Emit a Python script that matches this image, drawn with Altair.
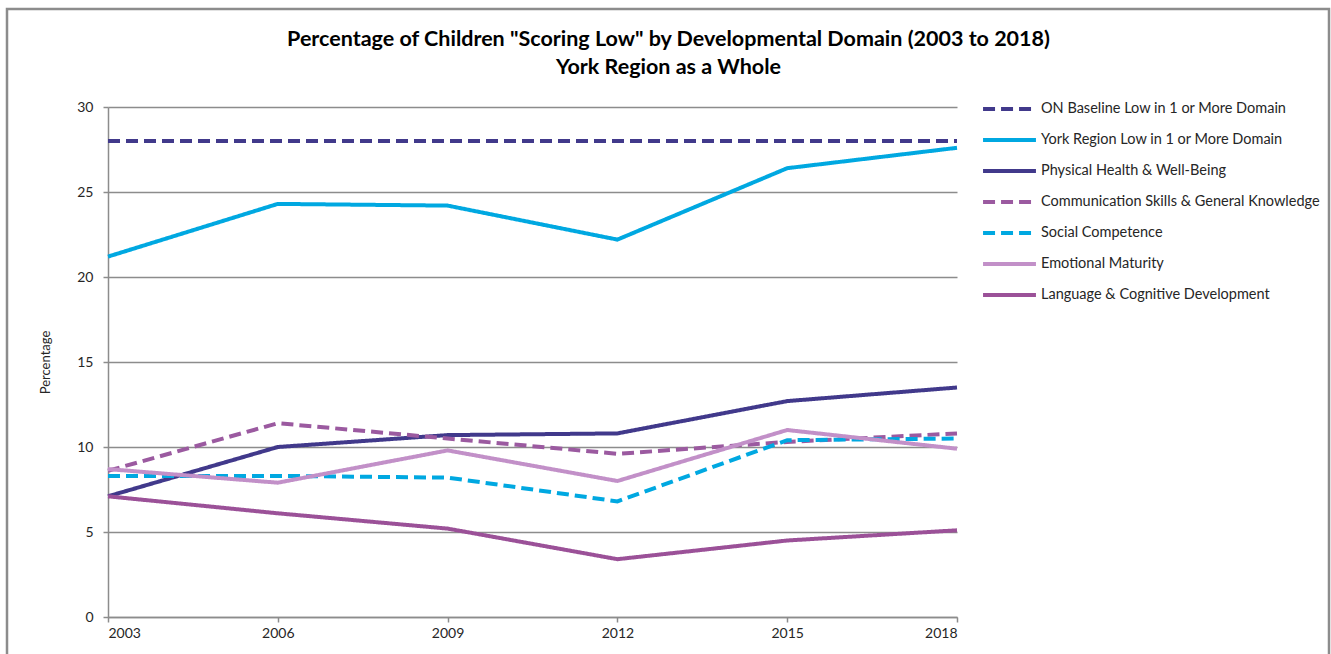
import altair as alt
import pandas as pd

years = [2003, 2006, 2009, 2012, 2015, 2018]

series_names = [
    "ON Baseline Low in 1 or More Domain",
    "York Region Low in 1 or More Domain",
    "Physical Health & Well-Being",
    "Communication Skills & General Knowledge",
    "Social Competence",
    "Emotional Maturity",
    "Language & Cognitive Development",
]

on_baseline = [28.0, 28.0, 28.0, 28.0, 28.0, 28.0]
york_region = [21.2, 24.3, 24.2, 22.2, 26.4, 27.6]
physical = [7.1, 10.0, 10.7, 10.8, 12.7, 13.5]
communication = [8.6, 11.4, 10.5, 9.6, 10.3, 10.8]
social = [8.3, 8.3, 8.2, 6.8, 10.4, 10.5]
emotional = [8.7, 7.9, 9.8, 8.0, 11.0, 9.9]
language = [7.1, 6.1, 5.2, 3.4, 4.5, 5.1]

series_values = [on_baseline, york_region, physical, communication, social, emotional, language]

colors = ["#41398B", "#00A8E1", "#41398B", "#9B5AA0", "#00A8E1", "#C290C8", "#9B5198"]
dashes = [[12, 6], [1, 0], [1, 0], [12, 6], [12, 6], [1, 0], [1, 0]]

rows = []
for name, vals in zip(series_names, series_values):
    for yr, v in zip(years, vals):
        rows.append({"year": yr, "value": v, "series": name})
df = pd.DataFrame(rows)

FONT = "Lato"

legend_props = dict(
    title=None,
    orient="none",
    legendX=873,
    legendY=-8,
    symbolType="stroke",
    symbolSize=2800,
    symbolStrokeWidth=4,
    clipHeight=20,
    rowPadding=11,
    labelFont=FONT,
    labelFontSize=14.5,
    labelColor="#262626",
    labelLimit=400,
    labelOffset=3,
)

lines = alt.Chart(df).mark_line(strokeWidth=4).encode(
    x=alt.X(
        "year:Q",
        scale=alt.Scale(domain=[2003, 2018], nice=False, zero=False),
        axis=alt.Axis(
            values=years, format="d", grid=False, title=None,
            labelFont=FONT, labelFontSize=14, labelColor="#262626",
            domainColor="#8c8c8c", domainWidth=1.5,
            tickColor="#8c8c8c", tickWidth=1.5, tickSize=5, labelPadding=4,
        ),
    ),
    y=alt.Y(
        "value:Q",
        scale=alt.Scale(domain=[0, 30], nice=False),
        axis=alt.Axis(
            values=[0, 5, 10, 15, 20, 25, 30], title="Percentage",
            titleFont=FONT, titleFontSize=13, titleFontWeight="normal", titleColor="#262626",
            titlePadding=24,
            labelFont=FONT, labelFontSize=14, labelColor="#262626",
            gridColor="#8c8c8c", gridWidth=1.5,
            domainColor="#8c8c8c", domainWidth=1.5,
            tickColor="#8c8c8c", tickWidth=1.5, tickSize=5, labelPadding=10,
        ),
    ),
    color=alt.Color(
        "series:N",
        scale=alt.Scale(domain=series_names, range=colors),
        legend=alt.Legend(**legend_props),
    ),
    strokeDash=alt.StrokeDash(
        "series:N",
        scale=alt.Scale(domain=series_names, range=dashes),
        legend=alt.Legend(**legend_props),
    ),
    order=alt.Order("year:Q"),
)

border = alt.Chart(pd.DataFrame({"a": [0]})).mark_rect(
    fill="white", fillOpacity=0, stroke="#8c8c8c", strokeWidth=2.5
).encode(
    x=alt.value(-101), x2=alt.value(1221), y=alt.value(-98), y2=alt.value(600)
)

chart = alt.layer(border, lines).properties(
    width=849,
    height=510,
    autosize=alt.AutoSizeParams(type="none"),
    padding={"left": 108, "top": 107, "right": 374, "bottom": 37},
    title=alt.Title(
        text=[
            "Percentage of Children \"Scoring Low\" by Developmental Domain (2003 to 2018)",
            "York Region as a Whole",
        ],
        font=FONT, fontSize=21.5, fontWeight="bold", color="#000000",
        anchor="middle", frame="group", dx=136, offset=-71, lineHeight=28,
    ),
).configure_view(stroke=None)

chart.save("out.html", embed_options={"renderer": "svg", "actions": False})
